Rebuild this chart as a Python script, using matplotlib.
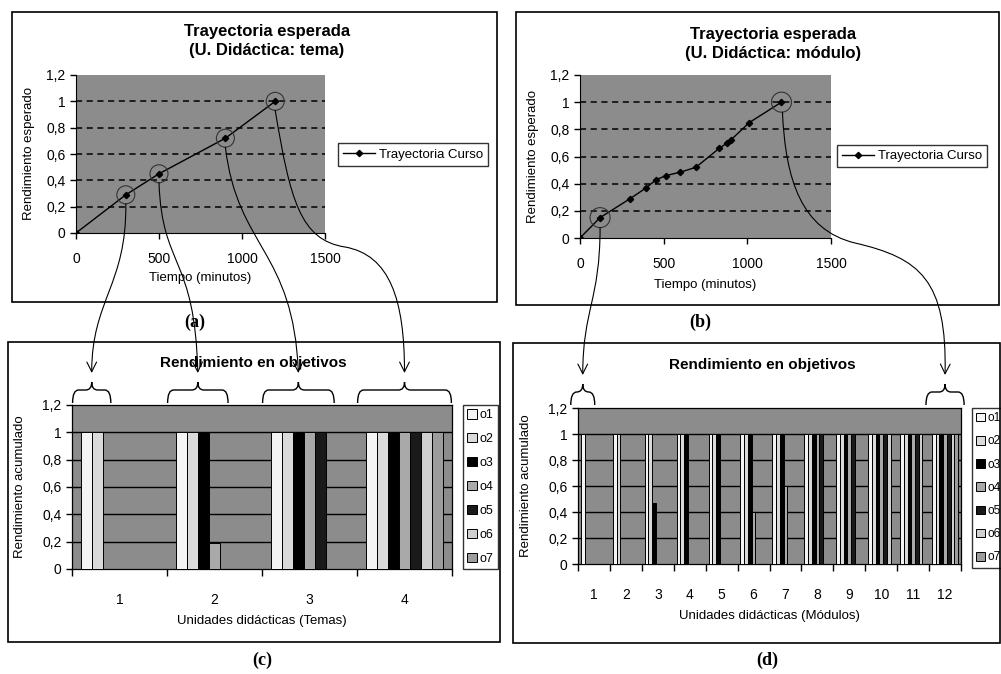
import matplotlib
matplotlib.use("Agg")
import matplotlib.pyplot as plt
import numpy as np
from matplotlib.patches import Rectangle, Circle, FancyArrowPatch, PathPatch
from matplotlib.path import Path

plt.rcParams['font.family'] = ['Liberation Sans', 'DejaVu Sans']

W, H = 1001, 674

# (a) trayectoria esperada, unidad = tema
tema_t = [0, 300, 500, 900, 1200]
tema_r = [0, 0.29, 0.45, 0.72, 1.0]

# (b) trayectoria esperada, unidad = modulo
mod_t = [0, 120, 300, 396, 456, 516, 600, 692, 832, 880, 900, 1012, 1204]
mod_r = [0, 0.15, 0.29, 0.37, 0.43, 0.46, 0.485, 0.52, 0.66, 0.70, 0.72, 0.85, 1.0]

y_ticks = [0, 0.2, 0.4, 0.6, 0.8, 1.0, 1.2]
y_ticklabels = ['0', '0,2', '0,4', '0,6', '0,8', '1', '1,2']
x_ticks_t = [0, 500, 1000, 1500]

objetivos = ['o1', 'o2', 'o3', 'o4', 'o5', 'o6', 'o7']

# (c) rendimiento por tema
temas = ['1', '2', '3', '4']
tem_o1 = [1, 1, 1, 1]
tem_o2 = [1, 1, 1, 1]
tem_o3 = [0, 1, 1, 1]
tem_o4 = [0, 0.19, 1, 1]
tem_o5 = [0, 0, 1, 1]
tem_o6 = [0, 0, 0, 1]
tem_o7 = [0, 0, 0, 1]

# (d) rendimiento por modulo
modulos = [str(i) for i in range(1, 13)]
mod_o1 = [1, 1, 1, 1, 1, 1, 1, 1, 1, 1, 1, 1]
mod_o2 = [0, 1, 1, 1, 1, 1, 1, 1, 1, 1, 1, 1]
mod_o3 = [0, 0, 0.47, 1, 1, 1, 1, 1, 1, 1, 1, 1]
mod_o4 = [0, 0, 0, 0, 0, 0.4, 0.6, 1, 1, 1, 1, 1]
mod_o5 = [0, 0, 0, 0, 0, 0, 0, 1, 1, 1, 1, 1]
mod_o6 = [0, 0, 0, 0, 0, 0, 0, 0, 0, 1, 1, 1]
mod_o7 = [0, 0, 0, 0, 0, 0, 0, 0, 0, 0, 0, 1]

bar_colors = ['#f4f4f4', '#dadada', '#000000', '#a9a9a9', '#1a1a1a', '#cfcfcf', '#9c9c9c']
plot_bg = '#8c8c8c'

fig = plt.figure(figsize=(W / 100, H / 100), dpi=100)
fig.patch.set_facecolor('white')


def ax_at(x0, y0, x1, y1):
    # pixel box (top-left origin) -> axes
    return fig.add_axes([x0 / W, 1 - y1 / H, (x1 - x0) / W, (y1 - y0) / H])


ov = fig.add_axes([0, 0, 1, 1], zorder=10)
ov.set_xlim(0, W)
ov.set_ylim(0, H)
ov.axis('off')
ov.patch.set_alpha(0)


def to_px(ax, x, y):
    return ax.transData.transform((x, y))


def frame(x0, y0, x1, y1):
    ov.add_patch(Rectangle((x0, H - y1), x1 - x0, y1 - y0, fill=False,
                           lw=1.2, ec='black'))


def traj_panel(box, t, r, title, tx, ty, leg_xy, xl_y):
    ax = ax_at(*box)
    ax.set_facecolor(plot_bg)
    ax.plot(t, r, color='black', lw=1.0, marker='D', ms=3.2,
            label='Trayectoria Curso', zorder=3)
    ax.set_xlim(0, 1500)
    ax.set_ylim(0, 1.2)
    ax.set_xticks(x_ticks_t)
    ax.set_yticks(y_ticks)
    ax.set_yticklabels(y_ticklabels)
    for v in y_ticks[1:-1]:
        ax.axhline(v, color='black', lw=1.1, ls=(0, (4, 3)), zorder=1)
    for s in ['top', 'right']:
        ax.spines[s].set_visible(False)
    ax.tick_params(direction='out', length=4, width=1, labelsize=10)
    ax.tick_params(axis='x', pad=10)
    ax.set_xlabel('Tiempo (minutos)', fontsize=9.5, va='center')
    ax.xaxis.set_label_coords(0.5, -(xl_y - box[3]) / (box[3] - box[1]))
    ax.set_ylabel('Rendimiento esperado', fontsize=9.5)
    ax.yaxis.set_label_coords(-0.165, 0.5)
    ax.legend(loc='center left', bbox_to_anchor=(leg_xy[0] / W, 1 - leg_xy[1] / H),
              bbox_transform=fig.transFigure, fontsize=9.5, frameon=True,
              fancybox=False, edgecolor='black', borderpad=0.4,
              handlelength=2.4, handletextpad=0.3, borderaxespad=0)
    fig.text(tx / W, 1 - ty / H, title, ha='center', va='center',
             fontsize=12, weight='bold', linespacing=1.35)
    return ax


def bar_panel(box, cats, series, title, tx, ty, xlabel, leg_xy, leg_fs):
    ax = ax_at(*box)
    ax.set_facecolor(plot_bg)
    x = np.arange(1, len(cats) + 1)
    bw = 0.117
    for i, vals in enumerate(series):
        ax.bar(x + (i - 3) * bw, vals, width=bw, color=bar_colors[i],
               edgecolor='black', lw=0.7, label=objetivos[i], zorder=3)
    for v in y_ticks[1:-1]:
        ax.axhline(v, color='black', lw=1.0, zorder=1)
    ax.set_xlim(0.5, len(cats) + 0.5)
    ax.set_ylim(0, 1.2)
    ax.set_yticks(y_ticks)
    ax.set_yticklabels(y_ticklabels)
    ax.set_xticks(x)
    ax.set_xticklabels(cats)
    ax.set_xticks(np.arange(0.5, len(cats) + 1), minor=True)
    ax.tick_params(axis='x', which='major', length=0, pad=17, labelsize=10)
    ax.tick_params(axis='x', which='minor', length=5, width=1, direction='out')
    ax.tick_params(axis='y', length=4, width=1, direction='out', labelsize=10)
    for s in ax.spines.values():
        s.set_linewidth(0.9)
    ax.set_xlabel(xlabel, fontsize=9.5, labelpad=6)
    ax.set_ylabel('Rendimiento acumulado', fontsize=9.5)
    ax.yaxis.set_label_coords(-0.12, 0.5)
    ax.legend(loc='upper left', bbox_to_anchor=(leg_xy[0] / W, 1 - leg_xy[1] / H),
              bbox_transform=fig.transFigure, fontsize=leg_fs, frameon=True,
              fancybox=False, edgecolor='black', borderpad=0.35,
              handlelength=0.75, handleheight=0.75, handletextpad=0.25,
              labelspacing=0.95, borderaxespad=0)
    fig.text(tx / W, 1 - ty / H, title, ha='center', va='center',
             fontsize=11, weight='bold')
    return ax, x, bw


def brace(xl, xr, y_end, y_mid, y_tip):
    xc = (xl + xr) / 2
    r = min(6, (xr - xl) / 4)
    ye, ym, yt = H - y_end, H - y_mid, H - y_tip
    verts = [(xl, ye), (xl, ym), (xl + r, ym), (xc - r, ym), (xc, ym), (xc, yt),
             (xc, ym), (xc + r, ym), (xr - r, ym), (xr, ym), (xr, ye)]
    codes = [Path.MOVETO, Path.CURVE3, Path.CURVE3, Path.LINETO, Path.CURVE3,
             Path.CURVE3, Path.CURVE3, Path.CURVE3, Path.LINETO, Path.CURVE3,
             Path.CURVE3]
    ov.add_patch(PathPatch(Path(verts, codes), fill=False, lw=1.0, ec='black'))
    return xc


def connector(pts):
    # pts: list of (x, y) top-origin pixels, 1 + 3k points (cubic segments)
    verts = [(px, H - py) for px, py in pts]
    codes = [Path.MOVETO] + [Path.CURVE4] * (len(verts) - 1)
    ov.add_patch(FancyArrowPatch(path=Path(verts, codes),
                                 arrowstyle='->,head_length=0.7,head_width=0.35',
                                 mutation_scale=10, lw=0.8, color='black'))


def brace_span(ax, x, bw, series, k, pad, minhw):
    nz = [i for i, s in enumerate(series) if s[k] > 0]
    left = x[k] + (nz[0] - 3.5) * bw
    right = x[k] + (nz[-1] - 2.5) * bw
    pl = to_px(ax, left, 0)[0]
    pr = to_px(ax, right, 0)[0]
    c = (pl + pr) / 2
    hw = max((pr - pl) / 2 + pad, minhw)
    return c - hw, c + hw


# panel frames
frame(12, 12, 497, 302)
frame(516, 12, 999, 305)
frame(8, 342, 500, 642)
frame(513, 343, 1000, 643)

ax_a = traj_panel((76, 75, 325, 233), tema_t, tema_r,
                  'Trayectoria esperada\n(U. Didáctica: tema)', 267, 41,
                  (338, 154.5), 278)
ax_b = traj_panel((580, 75, 831, 238), mod_t, mod_r,
                  'Trayectoria esperada\n(U. Didáctica: módulo)', 773, 44,
                  (837, 156), 285)

ser_c = [tem_o1, tem_o2, tem_o3, tem_o4, tem_o5, tem_o6, tem_o7]
ser_d = [mod_o1, mod_o2, mod_o3, mod_o4, mod_o5, mod_o6, mod_o7]
ax_c, xc_, bwc = bar_panel((72, 405, 452, 569), temas, ser_c,
                           'Rendimiento en objetivos', 253, 363,
                           'Unidades didácticas (Temas)', (463, 405), 9)
ax_d, xd_, bwd = bar_panel((578, 408, 961, 564), modulos, ser_d,
                           'Rendimiento en objetivos', 762, 365,
                           'Unidades didácticas (Módulos)', (972, 408), 8.5)

for lab, px, py in [('(a)', 195, 322), ('(b)', 700, 322),
                    ('(c)', 262, 660), ('(d)', 767, 660)]:
    fig.text(px / W, 1 - py / H, lab, ha='center', va='center',
             fontsize=13, weight='bold', family='Liberation Serif')

# circles on the expected trajectory + braces + connectors
tips_c = []
for k in range(len(temas)):
    l, r = brace_span(ax_c, xc_, bwc, ser_c, k, 8, 12)
    tips_c.append(brace(l, r, 403, 390, 382))
tips_d = []
for k in [0, len(modulos) - 1]:
    l, r = brace_span(ax_d, xd_, bwd, ser_d, k, 6, 12)
    tips_d.append(brace(l, r, 405, 392, 384))

pts_a = [to_px(ax_a, t, r) for t, r in zip(tema_t[1:], tema_r[1:])]
for p in pts_a:
    ov.add_patch(Circle(p, 9, fill=False, lw=0.8, ec='#333333'))
pts_b = [to_px(ax_b, mod_t[1], mod_r[1]), to_px(ax_b, mod_t[-1], mod_r[-1])]
for p in pts_b:
    ov.add_patch(Circle(p, 10, fill=False, lw=0.8, ec='#333333'))


def top(p):
    return p[0], H - p[1]


a1, a2, a3, a4 = [top(p) for p in pts_a]
connector([(a1[0], a1[1] + 9), (a1[0] + 1, a1[1] + 90), (tips_c[0], 300), (tips_c[0], 373)])
connector([(a2[0], a2[1] + 9), (a2[0] + 3, a2[1] + 95), (tips_c[1] - 3, 255), (tips_c[1], 373)])
connector([(a3[0], a3[1] + 9), (a3[0] + 12, a3[1] + 110), (tips_c[2] - 5, 250), (tips_c[2], 373)])
connector([(a4[0], a4[1] + 9), (a4[0] + 15, 200), (a4[0] + 25, 240), (345, 247),
           (390, 255), (tips_c[3], 300), (tips_c[3], 373)])

b1, b2 = [top(p) for p in pts_b]
connector([(b1[0], b1[1] + 10), (b1[0], 300), (tips_d[0], 310), (tips_d[0], 375)])
connector([(b2[0] + 1, b2[1] + 10), (b2[0] + 4, 180), (b2[0] + 20, 230), (855, 243),
           (920, 258), (tips_d[1] + 2, 280), (tips_d[1], 375)])

fig.savefig('out.png', dpi=100)
